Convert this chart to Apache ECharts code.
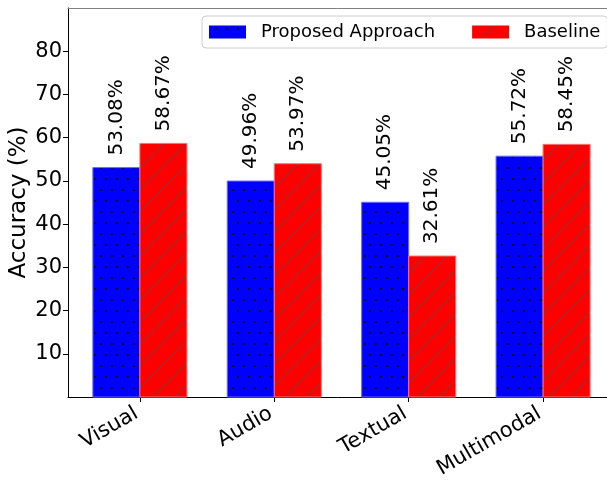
<!DOCTYPE html>
<html><head><meta charset="utf-8">
<script src="https://cdn.jsdelivr.net/npm/echarts@6/dist/echarts.min.js"></script>
<style>html,body{margin:0;padding:0;background:#fff}#c{width:607px;height:480px}</style>
</head><body><div id="c"></div>
<script>
const categories = ['Visual', 'Audio', 'Textual', 'Multimodal'];
const proposed = [53.08, 49.96, 45.05, 55.72];
const baseline = [58.67, 53.97, 32.61, 58.45];
const yTicks = [10, 20, 30, 40, 50, 60, 70, 80];
const seriesNames = ['Proposed Approach', 'Baseline'];

const FONT = 'DejaVu Sans';
const BW = 0.35;

function makeDots() {
  const c = document.createElement('canvas'); c.width = 22; c.height = 22;
  const g = c.getContext('2d');
  g.fillStyle = '#0000ff'; g.fillRect(0, 0, 22, 22);
  g.fillStyle = '#101018';
  [[6, 2], [17, 2], [1, 13], [12, 13]].forEach(([x, y]) => g.fillRect(x, y, 2, 2));
  return c;
}
function makeHatch() {
  const s = 22;
  const c = document.createElement('canvas'); c.width = s; c.height = s;
  const g = c.getContext('2d');
  g.fillStyle = '#ff0000'; g.fillRect(0, 0, s, s);
  g.strokeStyle = 'rgba(80,80,80,0.9)'; g.lineWidth = 1;
  [-s, 0, s].forEach(k => {
    g.beginPath(); g.moveTo(k - 1, s + 1); g.lineTo(k + s + 1, -1); g.stroke();
  });
  return c;
}
const dotPattern = { image: makeDots(), repeat: 'repeat' };
const hatchPattern = { image: makeHatch(), repeat: 'repeat' };

function makeSeries(name, values, offset, fill, edge) {
  return {
    name: name,
    type: 'custom',
    itemStyle: { color: fill },
    data: values.map((v, i) => [i, v]),
    renderItem: function (params, api) {
      const x = api.value(0), y = api.value(1);
      const p0 = api.coord([x + offset - BW / 2, y]);
      const p1 = api.coord([x + offset + BW / 2, 0]);
      const cx = (p0[0] + p1[0]) / 2;
      return {
        type: 'group',
        children: [
          { type: 'rect', shape: { x: p0[0], y: p0[1], width: p1[0] - p0[0], height: p1[1] - p0[1] },
            style: { fill: fill, stroke: edge, lineWidth: 1 } },
          { type: 'text', x: cx, y: p0[1] - 12, rotation: Math.PI / 2,
            style: { text: y.toFixed(2) + '%', fill: '#000', font: '20px "' + FONT + '"',
                     align: 'left', verticalAlign: 'middle' } }
        ]
      };
    }
  };
}

const chart = echarts.init(document.getElementById('c'));
chart.setOption({
  animation: false,
  backgroundColor: '#fff',
  textStyle: { fontFamily: FONT },
  grid: { left: 68, top: 8, width: 547, height: 389, containLabel: false, outerBoundsMode: 'none' },
  legend: {
    data: seriesNames,
    left: 202, top: 16, width: 460,
    icon: 'rect', itemWidth: 37, itemHeight: 13, itemGap: 37,
    padding: [6, 7, 6, 7],
    borderColor: '#cccccc', borderWidth: 1, borderRadius: 4,
    backgroundColor: 'rgba(255,255,255,0.85)',
    textStyle: { fontSize: 18, color: '#000', fontFamily: FONT, padding: [0, 0, 0, 10], lineHeight: 20 }
  },
  xAxis: [{
    type: 'value', min: -0.535, max: 3.535,
    axisLine: { show: true, onZero: false, lineStyle: { color: '#000', width: 1 } },
    axisTick: { show: true, customValues: [0, 1, 2, 3], length: 5, lineStyle: { color: '#000' } },
    axisLabel: { customValues: [0, 1, 2, 3], formatter: v => categories[v], rotate: 30,
                 align: 'right', verticalAlign: 'top', padding: [0, 10, 0, 0],
                 fontSize: 21, color: '#000', margin: 1, fontFamily: FONT },
    splitLine: { show: false }
  }, {
    type: 'value', min: -0.535, max: 3.535, position: 'top',
    axisLine: { show: true, onZero: false, lineStyle: { color: '#808080', width: 1 } },
    axisTick: { show: false }, axisLabel: { show: false }, splitLine: { show: false }
  }],
  yAxis: {
    type: 'value', min: 0, max: 90,
    name: 'Accuracy (%)', nameLocation: 'middle', nameGap: 37, nameMoveOverlap: false,
    nameTextStyle: { fontSize: 23, color: '#000', fontFamily: FONT },
    axisLine: { show: true, onZero: false, lineStyle: { color: '#000', width: 1 } },
    axisTick: { show: true, customValues: yTicks, length: 5, lineStyle: { color: '#000' } },
    axisLabel: { customValues: yTicks, fontSize: 21, color: '#000', margin: 6, fontFamily: FONT },
    splitLine: { show: false }
  },
  series: [
    makeSeries(seriesNames[0], proposed, -BW / 2, dotPattern, '#6a6aff'),
    makeSeries(seriesNames[1], baseline, BW / 2, hatchPattern, '#ff7070')
  ]
});
</script></body></html>
